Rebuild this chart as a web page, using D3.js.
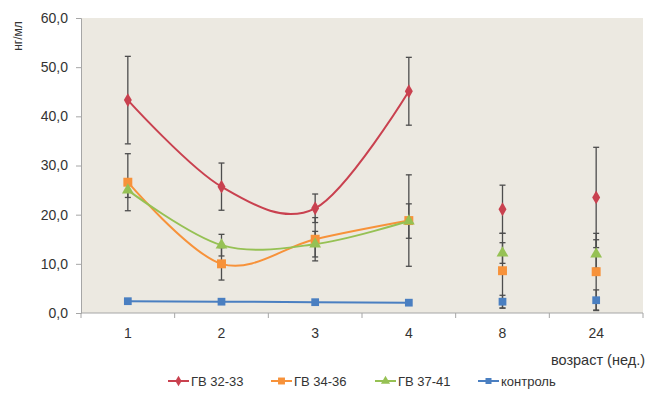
<!DOCTYPE html>
<html>
<head>
<meta charset="utf-8">
<script src="https://cdn.jsdelivr.net/npm/d3@7"></script>
<style>
body { margin: 0; background: #fff; }
svg { display: block; font-family: "Liberation Sans", Arial, sans-serif; }
</style>
</head>
<body>
<svg width="659" height="399"></svg>
<script>
var categories = ["1", "2", "3", "4", "8", "24"];
var yTicks = [0, 10, 20, 30, 40, 50, 60];

var gv3233 = [43.3, 25.7, 21.3, 45.1, 21.1, 23.5];
var gv3233Err = [8.9, 4.8, 2.9, 6.9, 4.9, 10.2];
var gv3436 = [26.6, 10.0, 15.0, 18.8, 8.6, 8.4];
var gv3436Err = [5.8, 3.3, 4.4, 9.3, 7.6, 7.8];
var gv3741 = [25.0, 13.8, 14.0, 18.7, 12.2, 12.0];
var gv3741Err = [1.5, 2.2, 2.6, 3.5, 2.1, 2.9];
var control = [2.4, 2.3, 2.2, 2.1, 2.3, 2.6];
var controlErr = [0.3, 0.3, 0.3, 0.3, 1.3, 2.1];

var series = [
    {name: "ГВ 32-33", values: gv3233, err: gv3233Err, color: "#c9414f", symbol: d3.symbolDiamond, size: 55, smooth: true},
    {name: "ГВ 34-36", values: gv3436, err: gv3436Err, color: "#f7923a", symbol: d3.symbolSquare, size: 80, smooth: true},
    {name: "ГВ 37-41", values: gv3741, err: gv3741Err, color: "#96c154", symbol: d3.symbolTriangle, size: 60, smooth: true},
    {name: "контроль", values: control, err: controlErr, color: "#4a7fc1", symbol: d3.symbolSquare, size: 60, smooth: false}
];

var svg = d3.select("svg"),
    margin = {top: 18, right: 16, bottom: 86, left: 81},
    width = 659 - margin.left - margin.right,
    height = 399 - margin.top - margin.bottom;

var x = d3.scaleBand().domain(categories).range([0, width]);
var y = d3.scaleLinear().domain([0, 60]).range([height, 0]);

var g = svg.append("g").attr("transform", "translate(" + margin.left + "," + margin.top + ")");

g.append("rect")
    .attr("width", width)
    .attr("height", height)
    .attr("fill", "#ece9e1");

// y axis
var yAxis = g.append("g")
    .call(d3.axisLeft(y).tickValues(yTicks).tickSize(5).tickPadding(8)
        .tickFormat(function(d) { return d3.format(".1f")(d).replace(".", ","); }));
yAxis.select(".domain").attr("stroke", "#a6a6a6");
yAxis.selectAll(".tick line").attr("stroke", "#a6a6a6");
yAxis.selectAll("text").attr("fill", "#333").style("font-size", "14px");

// x axis: ticks between categories
var xAxis = g.append("g").attr("transform", "translate(0," + height + ")");
xAxis.append("line").attr("x1", 0).attr("x2", width).attr("stroke", "#a6a6a6");
xAxis.selectAll(".sep")
    .data(d3.range(categories.length + 1))
    .enter().append("line")
    .attr("x1", function(i) { return i * x.bandwidth(); })
    .attr("x2", function(i) { return i * x.bandwidth(); })
    .attr("y1", 0).attr("y2", 5)
    .attr("stroke", "#a6a6a6");
xAxis.selectAll(".lbl")
    .data(categories)
    .enter().append("text")
    .attr("x", function(d) { return x(d) + x.bandwidth() / 2; })
    .attr("y", 25)
    .attr("text-anchor", "middle")
    .attr("fill", "#333")
    .style("font-size", "14px")
    .text(function(d) { return d; });

svg.append("text")
    .attr("x", 645).attr("y", 365)
    .attr("text-anchor", "end")
    .attr("fill", "#333")
    .style("font-size", "14.5px")
    .text("возраст (нед.)");

svg.append("text")
    .attr("transform", "translate(22,36) rotate(-90)")
    .attr("text-anchor", "middle")
    .attr("fill", "#333")
    .style("font-size", "12px")
    .text("нг/мл");

function cx(i) { return x(categories[i]) + x.bandwidth() / 2; }

// error bars
series.forEach(function(s) {
    var eb = g.append("g").attr("stroke", "#4d4d4d").attr("stroke-width", 1.3);
    s.values.forEach(function(v, i) {
        var hi = y(v + s.err[i]), lo = y(Math.max(0, v - s.err[i]));
        eb.append("line").attr("x1", cx(i)).attr("x2", cx(i)).attr("y1", hi).attr("y2", lo);
        eb.append("line").attr("x1", cx(i) - 3).attr("x2", cx(i) + 3).attr("y1", hi).attr("y2", hi);
        eb.append("line").attr("x1", cx(i) - 3).attr("x2", cx(i) + 3).attr("y1", lo).attr("y2", lo);
    });
});

// lines over weeks 1-4
series.forEach(function(s) {
    var line = d3.line()
        .x(function(d, i) { return cx(i); })
        .y(function(d) { return y(d); })
        .curve(s.smooth ? d3.curveCardinal.tension(0) : d3.curveLinear);
    g.append("path")
        .datum(s.values.slice(0, 4))
        .attr("fill", "none")
        .attr("stroke", s.color)
        .attr("stroke-width", 2)
        .attr("d", line);
});

// markers
series.forEach(function(s) {
    g.append("g").selectAll("path")
        .data(s.values)
        .enter().append("path")
        .attr("transform", function(d, i) { return "translate(" + cx(i) + "," + y(d) + ")"; })
        .attr("d", d3.symbol().type(s.symbol).size(s.size))
        .attr("fill", s.color);
});

// legend
var legendX = [168, 271, 375, 478];
var legend = svg.append("g").attr("transform", "translate(0,381)");
series.forEach(function(s, i) {
    var lg = legend.append("g").attr("transform", "translate(" + legendX[i] + ",0)");
    lg.append("line").attr("x1", 0).attr("x2", 21).attr("stroke", s.color).attr("stroke-width", 2);
    lg.append("path").attr("transform", "translate(10.5,0)")
        .attr("d", d3.symbol().type(s.symbol).size(s.size * 0.6)).attr("fill", s.color);
    lg.append("text").attr("x", 23).attr("y", 4.5)
        .attr("fill", "#333").style("font-size", "13px").text(s.name);
});
</script>
</body>
</html>
